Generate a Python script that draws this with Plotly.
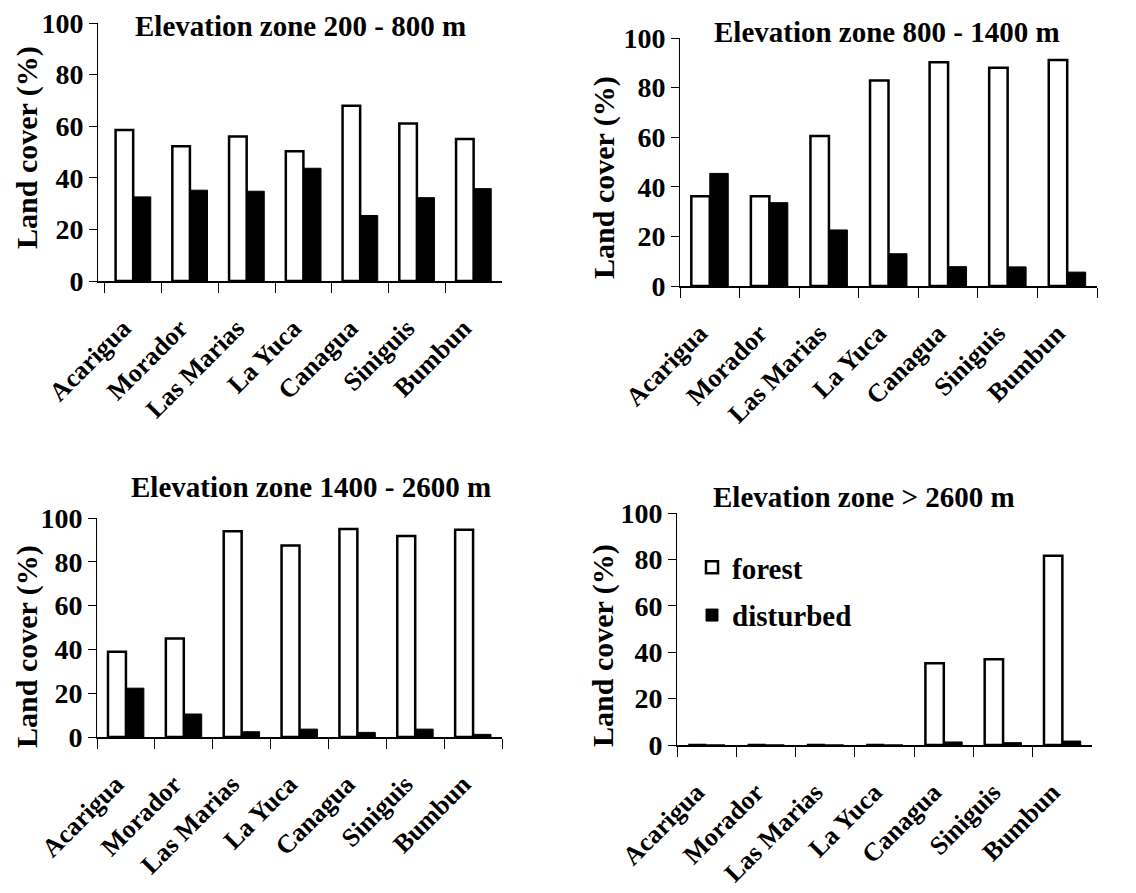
import plotly.graph_objects as go

sites = ["Acarigua", "Morador", "Las Marias", "La Yuca", "Canagua", "Siniguis", "Bumbun"]

forest_200_800 = [58.5, 52.2, 56.0, 50.3, 67.9, 61.0, 55.0]
disturbed_200_800 = [32.6, 35.2, 34.8, 43.7, 25.4, 32.3, 35.8]

forest_800_1400 = [36.2, 36.2, 60.5, 82.9, 90.2, 88.0, 91.1]
disturbed_800_1400 = [45.4, 33.6, 22.6, 13.0, 7.8, 7.7, 5.6]

forest_1400_2600 = [38.9, 45.0, 93.9, 87.4, 95.0, 91.8, 94.6]
disturbed_1400_2600 = [22.3, 10.5, 2.4, 3.6, 2.1, 3.6, 1.2]

forest_2600 = [0, 0, 0, 0, 35.2, 37.0, 81.6]
disturbed_2600 = [0, 0, 0, 0, 1.3, 1.0, 1.7]

titles = ["Elevation zone 200 - 800 m", "Elevation zone 800 - 1400 m",
          "Elevation zone 1400 - 2600 m", "Elevation zone > 2600 m"]
y_label = "Land cover (%)"

W, H = 1136, 893
OFF = 8  # page body margin
FONT = "Liberation Serif, Times New Roman, serif"


def px(xp):
    return (xp - OFF) / W


def py(yp):
    return 1 - (yp - OFF) / H


panels = [
    (forest_200_800, disturbed_200_800),
    (forest_800_1400, disturbed_800_1400),
    (forest_1400_2600, disturbed_1400_2600),
    (forest_2600, disturbed_2600),
]

# pixel geometry: (x_left, x_right, y_zero, y_hundred, range_start)
geom = [
    (98, 502, 281, 23, -0.62),
    (680, 1097, 286, 38, -0.5),
    (97, 502, 737, 518, -0.5),
    (677, 1092, 745, 513, -0.5),
]
title_pos = [(300, 26), (887, 32), (311, 487), (864, 497)]
ytitle_pos = [(27, 148), (604, 178), (27, 647), (603, 646)]

fig = go.Figure()
layout = {}
for i, ((f, d), (xl, xr, y0, y1, r0)) in enumerate(zip(panels, geom)):
    n = "" if i == 0 else str(i + 1)
    xa, ya = "x" + n, "y" + n
    fig.add_trace(go.Bar(
        x=sites, y=f, name="forest", xaxis=xa, yaxis=ya,
        marker=dict(color="white", line=dict(color="black", width=2.5)),
        showlegend=(i == 3), legendgroup="forest", offsetgroup="f",
    ))
    fig.add_trace(go.Bar(
        x=sites, y=d, name="disturbed", xaxis=xa, yaxis=ya,
        marker=dict(color="black", line=dict(color="black", width=1)),
        showlegend=(i == 3), legendgroup="disturbed", offsetgroup="d",
    ))
    layout["xaxis" + n] = dict(
        domain=[px(xl), px(xr)], anchor=ya, type="category", automargin=False,
        range=[r0, 6.5], showline=True, linecolor="black", linewidth=1.5,
        ticks="outside", ticklen=10, tickcolor="black", tickwidth=1,
        tickson="boundaries", tickangle=-45, ticklabelstandoff=20, ticklabelshift=-10,
        ticklabeloverflow="allow",
        tickfont=dict(family=FONT, size=26, color="black", weight="bold"),
        showgrid=False, zeroline=False,
    )
    layout["yaxis" + n] = dict(
        domain=[py(y0), py(y1)], anchor=xa, range=[0, 100], automargin=False,
        tickvals=[0, 20, 40, 60, 80, 100], showline=True, linecolor="black",
        linewidth=1, ticks="outside", ticklen=8, tickcolor="black",
        ticklabeloverflow="allow",
        tickfont=dict(family=FONT, size=28, color="black", weight="bold"),
        showgrid=False, zeroline=False,
    )

annotations = []
for t, (tx, ty) in zip(titles, title_pos):
    annotations.append(dict(text=t, x=px(tx), y=py(ty), xref="paper", yref="paper",
                            xanchor="center", yanchor="middle", showarrow=False,
                            font=dict(family=FONT, size=29, color="black", weight="bold")))
for (tx, ty) in ytitle_pos:
    annotations.append(dict(text=y_label, x=px(tx), y=py(ty), xref="paper", yref="paper",
                            xanchor="center", yanchor="middle", showarrow=False, textangle=-90,
                            font=dict(family=FONT, size=30, color="black", weight="bold")))

fig.update_layout(
    width=W, height=H, margin=dict(l=0, r=0, t=0, b=0, autoexpand=False),
    paper_bgcolor="white", plot_bgcolor="white",
    barmode="group", bargap=0.38, bargroupgap=0,
    annotations=annotations,
    legend=dict(x=px(692), y=py(542), xanchor="left", yanchor="top",
                font=dict(family=FONT, size=29, color="black", weight="bold"),
                traceorder="grouped", tracegroupgap=7, bgcolor="rgba(0,0,0,0)",
                itemwidth=30),
    **layout,
)

fig.write_html("out.html")
